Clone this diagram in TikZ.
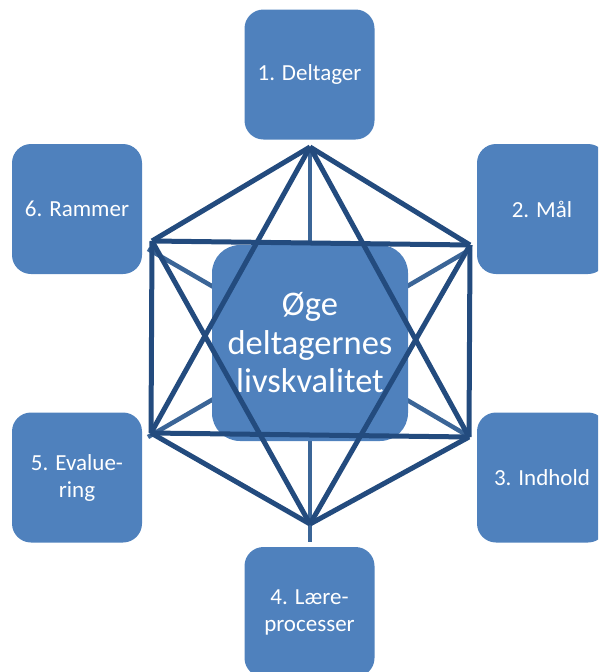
\documentclass[tikz,border=0pt]{standalone}
\usepackage{fontspec}
\setmainfont{Carlito}
\definecolor{boxblue}{HTML}{4F81BD}
\definecolor{linedark}{HTML}{234B7E}
\definecolor{spokeblue}{HTML}{3B6597}
\begin{document}
\begin{tikzpicture}[x=1pt,y=-1pt,
  outbox/.style={fill=boxblue, draw=none, rounded corners=19pt, minimum width=130pt, minimum height=130pt, inner sep=0pt, text=white, align=center, font=\fontsize{23}{27}\selectfont},
  centerbox/.style={fill=boxblue, draw=none, rounded corners=28pt, minimum width=196pt, minimum height=196pt, inner sep=0pt, text=white, align=center, font=\fontsize{34.5}{38.5}\selectfont},
  mainline/.style={draw=linedark, line width=5pt},
  spoke/.style={draw=spokeblue, line width=4.5pt}]
\useasboundingbox (0,0) rectangle (598,672);
\clip (0,0) rectangle (598,672);
% vertices
\coordinate (T) at (310,147);
\coordinate (B) at (310,524);
\coordinate (UL) at (152,241);
\coordinate (UR) at (470,245);
\coordinate (LL) at (151,433);
\coordinate (LR) at (469,437);
% spoke ends
\coordinate (sT) at (310,147);
\coordinate (sB) at (310,542);
\coordinate (sUL) at (148,249);
\coordinate (sUR) at (471,249);
\coordinate (sLL) at (148,437);
\coordinate (sLR) at (470,437);
\coordinate (cc) at (310,343);
% spokes
\foreach \e in {sT,sB,sUL,sUR,sLL,sLR} \draw[spoke] (cc) -- (\e);
% center
\node[centerbox] (c) at (310,343) {Øge\\deltagernes\\livskvalitet};
% outer boxes
\node[outbox] (b1) at (309.5,74.5) {1. Deltager};
\node[outbox] (b2) at (542,209) {2. Mål};
\node[outbox] (b3) at (542,477.5) {3. Indhold};
\node[outbox] (b4) at (309.5,612) {4. Lære-\\processer};
\node[outbox] (b5) at (77,477.5) {5. Evalue-\\ring};
\node[outbox] (b6) at (77,209) {6. Rammer};
% main lines
\draw[mainline] (T) -- (UL);
\draw[mainline] (T) -- (UR);
\draw[mainline] (T) -- (LL);
\draw[mainline] (T) -- (LR);
\draw[mainline] (B) -- (LL);
\draw[mainline] (B) -- (LR);
\draw[mainline] (B) -- (UL);
\draw[mainline] (B) -- (UR);
\draw[mainline] (UL) -- (UR);
\draw[mainline] (LL) -- (LR);
\draw[mainline] (UL) -- (LL);
\draw[mainline] (UR) -- (LR);
\end{tikzpicture}
\end{document}
